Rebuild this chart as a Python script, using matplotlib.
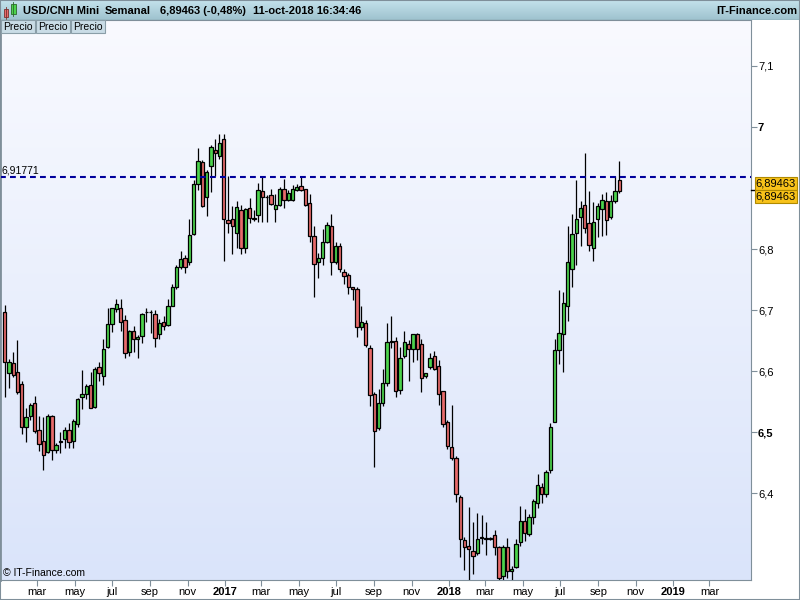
import numpy as np
import pandas as pd
import matplotlib
matplotlib.use('Agg')
import matplotlib.pyplot as plt
import matplotlib.dates as mdates
from matplotlib.patches import Rectangle

plt.rcParams['font.family'] = ['Liberation Sans', 'DejaVu Sans']
plt.rcParams['lines.scale_dashes'] = False

# USD/CNH semanal: apertura, maximo, minimo, cierre
weeks = pd.date_range('2016-01-08', periods=144, freq='W-FRI')
opens = [6.696, 6.596, 6.613, 6.598, 6.578, 6.509, 6.527, 6.547, 6.503, 6.486,
         6.468, 6.526, 6.470, 6.484, 6.488, 6.503, 6.486, 6.513, 6.558, 6.562,
         6.577, 6.541, 6.606, 6.592, 6.640, 6.677, 6.701, 6.703, 6.683, 6.631,
         6.665, 6.652, 6.657, 6.696, 6.697, 6.693, 6.660, 6.680, 6.675, 6.707,
         6.737, 6.770, 6.786, 6.778, 6.824, 6.907, 6.942, 6.886, 6.936, 6.962,
         6.952, 6.981, 6.847, 6.850, 6.826, 6.864, 6.802, 6.868, 6.851, 6.855,
         6.895, 6.886, 6.888, 6.865, 6.872, 6.898, 6.880, 6.880, 6.896, 6.903,
         6.898, 6.875, 6.822, 6.778, 6.785, 6.811, 6.838, 6.779, 6.805, 6.763,
         6.757, 6.737, 6.734, 6.672, 6.678, 6.637, 6.562, 6.507, 6.547, 6.580,
         6.647, 6.650, 6.569, 6.624, 6.645, 6.636, 6.660, 6.644, 6.592, 6.607,
         6.624, 6.609, 6.567, 6.516, 6.475, 6.457, 6.394, 6.323, 6.313, 6.305,
         6.301, 6.327, 6.327, 6.326, 6.331, 6.312, 6.264, 6.311, 6.272, 6.279,
         6.319, 6.354, 6.332, 6.360, 6.383, 6.410, 6.399, 6.437, 6.517, 6.634,
         6.660, 6.706, 6.768, 6.827, 6.852, 6.872, 6.842, 6.801, 6.849, 6.865,
         6.878, 6.853, 6.878, 6.913]
highs = [6.708, 6.619, 6.631, 6.651, 6.584, 6.539, 6.548, 6.559, 6.526, 6.525,
         6.530, 6.528, 6.482, 6.500, 6.508, 6.515, 6.521, 6.555, 6.602, 6.578,
         6.598, 6.607, 6.615, 6.652, 6.703, 6.704, 6.718, 6.718, 6.692, 6.667,
         6.674, 6.659, 6.695, 6.704, 6.700, 6.700, 6.685, 6.690, 6.718, 6.742,
         6.774, 6.797, 6.790, 6.849, 6.913, 6.965, 6.946, 6.930, 6.971, 6.981,
         6.989, 6.989, 6.919, 6.870, 6.879, 6.872, 6.867, 6.883, 6.864, 6.908,
         6.920, 6.888, 6.898, 6.890, 6.901, 6.914, 6.897, 6.905, 6.906, 6.919,
         6.899, 6.890, 6.838, 6.794, 6.832, 6.845, 6.858, 6.812, 6.810, 6.767,
         6.760, 6.738, 6.737, 6.707, 6.684, 6.643, 6.566, 6.570, 6.603, 6.678,
         6.690, 6.655, 6.640, 6.666, 6.651, 6.661, 6.663, 6.652, 6.597, 6.629,
         6.633, 6.618, 6.568, 6.520, 6.544, 6.460, 6.397, 6.328, 6.377, 6.353,
         6.368, 6.364, 6.353, 6.328, 6.339, 6.313, 6.315, 6.326, 6.280, 6.324,
         6.379, 6.373, 6.366, 6.390, 6.431, 6.417, 6.438, 6.515, 6.652, 6.733,
         6.729, 6.838, 6.857, 6.913, 6.878, 6.958, 6.895, 6.877, 6.875, 6.890,
         6.893, 6.889, 6.920, 6.944]
lows = [6.558, 6.572, 6.590, 6.562, 6.497, 6.484, 6.519, 6.499, 6.469, 6.438,
        6.466, 6.454, 6.466, 6.466, 6.473, 6.473, 6.473, 6.509, 6.537, 6.554,
        6.539, 6.540, 6.584, 6.577, 6.638, 6.664, 6.697, 6.666, 6.622, 6.625,
        6.631, 6.622, 6.646, 6.681, 6.663, 6.640, 6.652, 6.667, 6.673, 6.706,
        6.735, 6.768, 6.761, 6.773, 6.823, 6.897, 6.869, 6.854, 6.894, 6.920,
        6.948, 6.781, 6.827, 6.791, 6.801, 6.791, 6.794, 6.842, 6.846, 6.845,
        6.845, 6.845, 6.872, 6.845, 6.870, 6.868, 6.878, 6.879, 6.895, 6.895,
        6.870, 6.812, 6.722, 6.753, 6.773, 6.810, 6.758, 6.776, 6.763, 6.742,
        6.727, 6.716, 6.656, 6.668, 6.640, 6.543, 6.442, 6.504, 6.543, 6.575,
        6.637, 6.557, 6.563, 6.622, 6.584, 6.615, 6.618, 6.566, 6.589, 6.603,
        6.602, 6.544, 6.509, 6.472, 6.454, 6.386, 6.295, 6.274, 6.258, 6.268,
        6.298, 6.317, 6.298, 6.323, 6.298, 6.257, 6.257, 6.260, 6.257, 6.277,
        6.313, 6.321, 6.330, 6.349, 6.375, 6.383, 6.394, 6.432, 6.517, 6.611,
        6.599, 6.682, 6.737, 6.773, 6.805, 6.827, 6.797, 6.781, 6.820, 6.822,
        6.823, 6.849, 6.876, 6.891]
closes = [6.614, 6.614, 6.593, 6.566, 6.508, 6.524, 6.545, 6.501, 6.480, 6.463,
          6.526, 6.470, 6.479, 6.485, 6.504, 6.484, 6.518, 6.554, 6.562, 6.576,
          6.540, 6.604, 6.596, 6.636, 6.677, 6.703, 6.710, 6.681, 6.629, 6.666,
          6.652, 6.655, 6.693, 6.697, 6.696, 6.654, 6.678, 6.673, 6.706, 6.737,
          6.770, 6.783, 6.771, 6.823, 6.907, 6.945, 6.871, 6.926, 6.967, 6.957,
          6.973, 6.849, 6.842, 6.837, 6.869, 6.801, 6.865, 6.851, 6.850, 6.896,
          6.886, 6.886, 6.873, 6.872, 6.899, 6.881, 6.891, 6.898, 6.902, 6.896,
          6.872, 6.822, 6.775, 6.786, 6.811, 6.839, 6.778, 6.805, 6.767, 6.756,
          6.737, 6.735, 6.672, 6.681, 6.643, 6.560, 6.501, 6.547, 6.581, 6.647,
          6.650, 6.567, 6.622, 6.647, 6.636, 6.660, 6.636, 6.588, 6.596, 6.622,
          6.604, 6.563, 6.513, 6.477, 6.457, 6.399, 6.324, 6.311, 6.309, 6.296,
          6.325, 6.328, 6.324, 6.325, 6.311, 6.261, 6.312, 6.272, 6.276, 6.317,
          6.354, 6.334, 6.360, 6.387, 6.413, 6.399, 6.435, 6.509, 6.634, 6.662,
          6.711, 6.778, 6.824, 6.849, 6.868, 6.834, 6.806, 6.844, 6.870, 6.881,
          6.847, 6.878, 6.895, 6.89463]

level = 6.91771
last_price = 6.89463
y_ticks = [6.4, 6.5, 6.6, 6.7, 6.8, 7.0, 7.1]
y_labels = ['6,4', '6,5', '6,6', '6,7', '6,8', '7', '7,1']
bold_y = ['6,5', '7']
month_ticks = pd.date_range('2016-03-01', '2019-03-01', freq='2MS')
meses = ['ene', 'feb', 'mar', 'abr', 'may', 'jun', 'jul', 'ago', 'sep', 'oct', 'nov', 'dic']

W, H = 800, 600
def fx(px):
    return px / W
def fy(py):
    return 1 - py / H

fig = plt.figure(figsize=(8, 6), dpi=100)
fig.patch.set_facecolor('white')

# area del grafico
ax = fig.add_axes([0, fy(580), fx(751), 560 / H])
d0 = mdates.date2num(pd.Timestamp('2017-01-01'))
ppd = 0.614
x_left = d0 - 225 / ppd
x_right = d0 + (751 - 225) / ppd
y_bot, y_top = 6.2574, 7.1754
ax.set_xlim(x_left, x_right)
ax.set_ylim(y_bot, y_top)

grad = np.linspace(0, 1, 256).reshape(-1, 1)
top_c = np.array([249, 250, 255]) / 255
bot_c = np.array([218, 228, 250]) / 255
img = top_c * (1 - grad[..., None]) + bot_c * grad[..., None]
ax.imshow(img, extent=[x_left, x_right, y_bot, y_top], aspect='auto', zorder=0)

x = mdates.date2num(weeks)
o = np.array(opens)
h = np.array(highs)
l = np.array(lows)
c = np.array(closes)
up = c >= o
cols = np.where(up, '#4cd34c', '#e86b6b')
ax.vlines(x, l, h, color='black', lw=0.9, zorder=2)
ax.bar(x, np.abs(c - o), bottom=np.minimum(o, c), width=5.4, color=cols,
       edgecolor='black', linewidth=0.9, zorder=3)

ax.axhline(level, color='#00009c', lw=1.5, dashes=(4.2, 3.0), zorder=4)
ax.text(x_left + 1 / ppd, level + 0.003, '6,91771', fontsize=7.5, va='bottom', ha='left', zorder=5)

# ejes
for s in ax.spines.values():
    s.set_color('#7f8f9a')
ax.spines['left'].set_linewidth(2)
ax.yaxis.tick_right()
ax.set_yticks(y_ticks)
ax.set_yticklabels(y_labels)
for t in ax.get_yticklabels():
    if t.get_text() in bold_y:
        t.set_fontweight('bold')
        t.set_fontsize(9)
ax.tick_params(axis='y', direction='out', length=4, pad=1, labelsize=8, color='#7f8f9a')

ax.set_xticks(mdates.date2num(month_ticks))
xl = []
for d in month_ticks:
    xl.append(str(d.year) if d.month == 1 else meses[d.month - 1])
ax.set_xticklabels(xl)
for t in ax.get_xticklabels():
    if t.get_text().isdigit():
        t.set_fontweight('bold')
        t.set_fontsize(9.5)
ax.tick_params(axis='x', direction='out', length=4, pad=1, labelsize=8, color='#7f8f9a')

ax.text(x_left + 3 / ppd, y_bot + 0.004, '\u00a9 IT-Finance.com', fontsize=7.5, va='bottom', ha='left', zorder=5)

# cabecera
hax = fig.add_axes([0, fy(20), 1, 20 / H])
hgrad = np.linspace(0, 1, 64).reshape(-1, 1)
htop = np.array([196, 226, 236]) / 255
hbot = np.array([158, 194, 206]) / 255
himg = htop * (1 - hgrad[..., None]) + hbot * hgrad[..., None]
hax.imshow(himg, extent=[0, W, 20, 0], aspect='auto')
hax.set_xlim(0, W)
hax.set_ylim(20, 0)
hax.axis('off')
hax.add_patch(Rectangle((3.5, 8.5), 4.5, 8, facecolor='#e86b6b', edgecolor='#7a3030', lw=0.6))
hax.plot([5.75, 5.75], [6.5, 18.5], color='#7a3030', lw=0.6)
hax.add_patch(Rectangle((11, 4), 4.5, 10, facecolor='#4cd34c', edgecolor='#2a6a2a', lw=0.6))
hax.plot([13.25, 13.25], [2, 16], color='#2a6a2a', lw=0.6)
hax.text(23, 10.5, 'USD/CNH Mini', fontsize=8, fontweight='bold', va='center')
hax.text(105, 10.5, 'Semanal', fontsize=8, fontweight='bold', va='center')
hax.text(160, 10.5, '6,89463 (-0,48%)', fontsize=8, fontweight='bold', va='center')
hax.text(253, 10.5, '11-oct-2018 16:34:46', fontsize=8, fontweight='bold', va='center')
hax.text(797, 10.5, 'IT-Finance.com', fontsize=8, fontweight='bold', va='center', ha='right')
hax.plot([0, W], [19.5, 19.5], color='#7f8f9a', lw=1)

# pestañas Precio
for i in range(3):
    fig.patches.append(Rectangle((fx(1 + 35 * i), fy(33)), fx(34), 13 / H, transform=fig.transFigure,
                                 facecolor='#c9dce6', edgecolor='#8a9ea8', lw=0.8, zorder=5))
    fig.text(fx(18 + 35 * i), fy(26.5), 'Precio', fontsize=7.5, ha='center', va='center', zorder=6)

# etiquetas de precio
for yy in (177, 190):
    fig.patches.append(Rectangle((fx(755), fy(yy + 12.5)), fx(42), 12.5 / H, transform=fig.transFigure,
                                 facecolor='#f7c21a', edgecolor='#b08a00', lw=0.8, zorder=5))
    fig.text(fx(776), fy(yy + 6.5), '6,89463', fontsize=8, ha='center', va='center', zorder=6)
fig.lines.append(plt.Line2D([fx(751), fx(755)], [fy(190), fy(190)], transform=fig.transFigure,
                            color='black', lw=1))

fig.patches.append(Rectangle((0, 0), 1, 1, transform=fig.transFigure, fill=False,
                             edgecolor='#7f8f9a', lw=1.5))

fig.savefig('out.png', dpi=100)
